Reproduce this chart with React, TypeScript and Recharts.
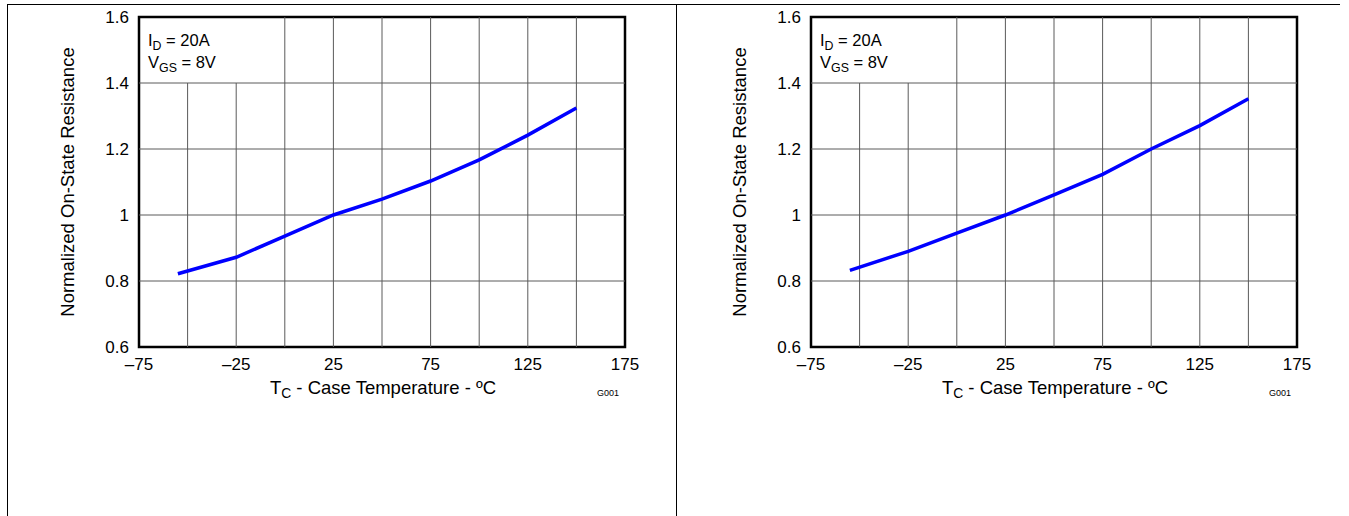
import { LineChart, Line, XAxis, YAxis, ReferenceLine, ReferenceArea } from 'recharts'

const temps = [-55, -25, 0, 25, 50, 75, 100, 125, 150]
const leftRds = [0.822, 0.872, 0.936, 1.0, 1.048, 1.103, 1.167, 1.242, 1.324]
const rightRds = [0.832, 0.89, 0.945, 1.0, 1.061, 1.123, 1.2, 1.271, 1.352]

const xTicks = [-75, -25, 25, 75, 125, 175]
const yTicks = [0.6, 0.8, 1, 1.2, 1.4, 1.6]
const xGrid = [-50, -25, 0, 25, 50, 75, 100, 125, 150]
const yGrid = [0.8, 1, 1.2, 1.4]

const font = '"Liberation Sans", Arial, sans-serif'
const gridColor = '#5a5a5a'
const subStyle = { fontSize: '0.75em', lineHeight: 0, verticalAlign: '-0.3em' }

function fmtX(v: number) {
  return v < 0 ? '\u2013' + Math.abs(v) : String(v)
}

function Panel({ values, left }: { values: number[]; left: number }) {
  const data = temps.map((t, i) => ({ t, r: values[i] }))
  return (
    <div style={{ position: 'absolute', left, top: 0, width: 672, height: 420, fontFamily: font }}>
      <LineChart width={672} height={420} data={data} margin={{ top: 17, right: 54, left: 72, bottom: 43 }}>
        <XAxis
          dataKey="t"
          type="number"
          domain={[-75, 175]}
          ticks={xTicks}
          tickFormatter={fmtX}
          axisLine={false}
          tickLine={false}
          height={30}
          tickMargin={5}
          tick={{ fontSize: 17, fill: '#000', fontFamily: font }}
        />
        <YAxis
          type="number"
          domain={[0.6, 1.6]}
          ticks={yTicks}
          tickFormatter={(v: number) => String(v)}
          axisLine={false}
          tickLine={false}
          width={60}
          tickMargin={4}
          tick={{ fontSize: 17, fill: '#000', fontFamily: font }}
        />
        {yGrid.map((v) => (
          <ReferenceLine key={'h' + v} y={v} stroke={gridColor} strokeWidth={1} />
        ))}
        {xGrid.map((v) =>
          v < 0 ? (
            <ReferenceLine key={'v' + v} segment={[{ x: v, y: 0.6 }, { x: v, y: 1.4 }]} stroke={gridColor} strokeWidth={1} />
          ) : (
            <ReferenceLine key={'v' + v} x={v} stroke={gridColor} strokeWidth={1} />
          )
        )}
        <ReferenceArea x1={-75} x2={175} y1={0.6} y2={1.6} fill="none" stroke="#000" strokeWidth={2.5} />
        <Line dataKey="r" stroke="#0000ff" strokeWidth={3.5} dot={false} isAnimationActive={false} />
      </LineChart>
      <div style={{ position: 'absolute', left: 141, top: 29, fontSize: 16.5, lineHeight: '22px', color: '#000' }}>
        <div>I<span style={subStyle}>D</span> = 20A</div>
        <div>V<span style={subStyle}>GS</span> = 8V</div>
      </div>
      <div
        style={{
          position: 'absolute',
          left: 61 - 160,
          top: 182 - 11,
          width: 320,
          height: 22,
          textAlign: 'center',
          fontSize: 18.5,
          lineHeight: '22px',
          transform: 'rotate(-90deg)',
          color: '#000',
          whiteSpace: 'nowrap',
        }}
      >
        Normalized On-State Resistance
      </div>
      <div style={{ position: 'absolute', left: 216, top: 377, width: 320, textAlign: 'center', fontSize: 18.5, lineHeight: '22px', color: '#000' }}>
        T<span style={subStyle}>C</span> - Case Temperature - ºC
      </div>
      <div style={{ position: 'absolute', left: 590, top: 388, fontSize: 9, color: '#000' }}>G001</div>
    </div>
  )
}

export default function App() {
  return (
    <div style={{ position: 'absolute', left: 0, top: 0, width: 1349, height: 516, background: '#fff', overflow: 'hidden' }}>
      <div style={{ position: 'absolute', left: 7, top: 4, width: 1333, height: 1, background: '#000' }} />
      <div style={{ position: 'absolute', left: 7, top: 4, width: 1, height: 512, background: '#000' }} />
      <div style={{ position: 'absolute', left: 676, top: 4, width: 1, height: 512, background: '#000' }} />
      <Panel values={leftRds} left={7} />
      <Panel values={rightRds} left={679} />
    </div>
  )
}
